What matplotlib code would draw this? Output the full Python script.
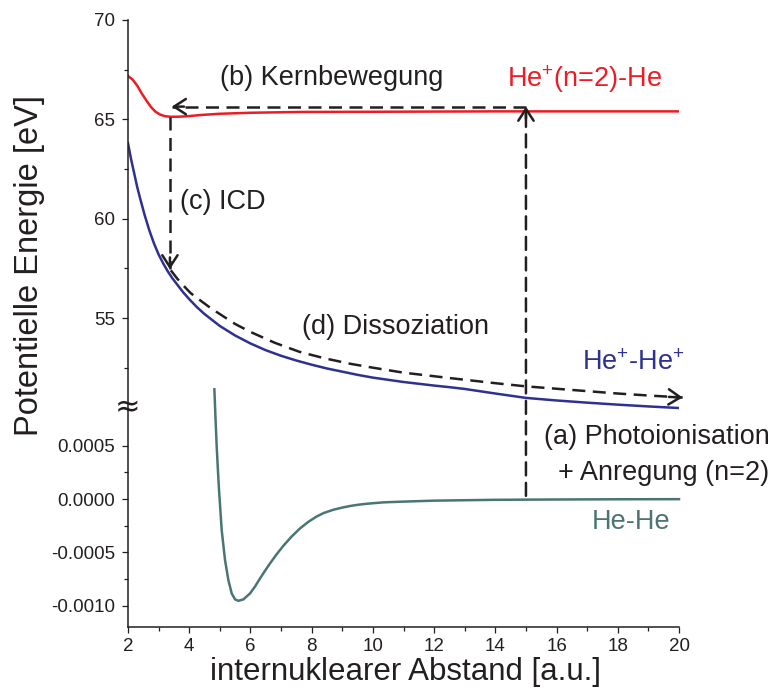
import numpy as np
import matplotlib
matplotlib.use("Agg")
from matplotlib import pyplot as plt
from matplotlib.patches import ConnectionPatch

plt.rcParams['font.family'] = ['Liberation Sans', 'DejaVu Sans']
plt.rcParams['mathtext.fontset'] = 'custom'
plt.rcParams['mathtext.rm'] = 'Liberation Sans'
plt.rcParams['mathtext.it'] = 'Liberation Sans'

# Daten
x_red = [2.0, 2.15, 2.3, 2.45, 2.6, 2.75, 2.9, 3.05, 3.2, 3.37, 3.6, 3.9, 4.4, 5.0, 6.0, 7.6, 10.0, 14.0, 20.0]
y_red = [67.18, 67.0, 66.7, 66.3, 65.95, 65.62, 65.38, 65.24, 65.16, 65.13, 65.13, 65.15, 65.22, 65.28, 65.33, 65.37, 65.38, 65.4, 65.4]

x_blue = [2.0, 2.1, 2.2, 2.3, 2.4, 2.55, 2.7, 2.85, 3.0, 3.15, 3.3, 3.45, 3.6, 3.8, 4.0, 4.25, 4.5, 4.75, 5.0,
          5.5, 6.0, 6.5, 7.0, 7.5, 8.0, 8.5, 9.0, 9.5, 10.0, 11.0, 12.0, 12.5, 13.0, 14.0, 15.0, 16.0, 17.0,
          18.0, 19.0, 20.0]
y_blue = [63.8, 63.0, 62.3, 61.6, 61.0, 60.15, 59.4, 58.75, 58.2, 57.75, 57.35, 57.0, 56.7, 56.3, 55.95, 55.55,
          55.2, 54.9, 54.6, 54.12, 53.72, 53.38, 53.1, 52.86, 52.65, 52.46, 52.3, 52.14, 52.0, 51.78, 51.6,
          51.52, 51.43, 51.2, 50.98, 50.85, 50.74, 50.64, 50.55, 50.47]

x_hehe = [4.822, 4.86, 4.898, 4.935, 4.974, 5.061, 5.17, 5.279, 5.388, 5.497, 5.606, 5.769, 5.987, 6.15, 6.314,
          6.47, 6.641, 6.85, 7.076, 7.35, 7.621, 7.9, 8.166, 8.4, 8.71, 9.0, 9.255, 9.5, 9.8, 10.34, 10.89,
          12.0, 14.0, 16.0, 18.0, 20.0]
y_hehe = [1.029e-3, 7.5e-4, 4.91e-4, 2.85e-4, 8.4e-5, -2.91e-4, -5.72e-4, -7.6e-4, -8.85e-4, -9.41e-4, -9.54e-4,
          -9.41e-4, -8.85e-4, -8.2e-4, -7.44e-4, -6.75e-4, -6.03e-4, -5.2e-4, -4.38e-4, -3.5e-4, -2.75e-4,
          -2.12e-4, -1.63e-4, -1.3e-4, -1.0e-4, -8.0e-5, -6.5e-5, -5.4e-5, -4.4e-5, -3.1e-5, -2.5e-5,
          -1.5e-5, -7e-6, -4e-6, -2e-6, -1e-6]

# gestrichelte Pfade
x_diss = [3.4, 3.6, 3.8, 4.05, 4.35, 4.7, 5.0, 5.5, 6.0, 6.8, 7.6, 8.4, 9.25, 10.0, 11.0, 12.5, 14.0, 15.0,
          16.5, 18.0, 19.0, 20.12]
y_diss = [57.4, 57.0, 56.65, 56.25, 55.9, 55.5, 55.2, 54.7, 54.3, 53.75, 53.3, 52.98, 52.7, 52.5, 52.25, 51.98,
          51.72, 51.56, 51.38, 51.2, 51.1, 51.0]
x_kern = [15.0, 3.43]
y_kern = [65.64, 65.64]
x_icd = [3.37, 3.37]
y_icd = [65.1, 57.45]
x_photo = 15.0
y_photo_start = 0.00003
y_photo_end = 65.64

xticks = [2, 4, 6, 8, 10, 12, 14, 16, 18, 20]
yticks_top = [55, 60, 65, 70]
yticks_bot = [-0.0010, -0.0005, 0.0000, 0.0005]
yticklabels_bot = ['-0.0010', '-0.0005', '0.0000', '0.0005']

RED = '#ED1C24'
BLUE = '#2E3192'
TEAL = '#4A7573'
INK = '#231F20'
LW = 1.8
DASH = (0, (5.2, 3.0))

fig = plt.figure(figsize=(7.71, 6.96), dpi=100)
ax_top = fig.add_axes([0.166, 0.4109, 0.7147, 0.5604])
ax_bot = fig.add_axes([0.166, 0.0991, 0.7147, 0.3118], sharex=ax_top)

ax_top.set_xlim(2, 20)
ax_top.set_ylim(50.37, 70)
ax_bot.set_ylim(-0.0012, 0.000835)

for ax in (ax_top, ax_bot):
    ax.spines['top'].set_visible(False)
    ax.spines['right'].set_visible(False)
    ax.spines['left'].set_linewidth(1.1)
    ax.spines['left'].set_color(INK)
    ax.tick_params(direction='out', length=4.5, width=0.9, labelsize=13.5, colors=INK, pad=4.5)
    ax.tick_params(which='minor', direction='out', length=2.6, width=0.9, colors=INK)
    ax.patch.set_visible(False)

ax_top.spines['bottom'].set_visible(False)
ax_top.tick_params(axis='x', which='both', bottom=False, labelbottom=False)
ax_bot.spines['bottom'].set_linewidth(1.1)
ax_bot.spines['bottom'].set_color(INK)
ax_bot.tick_params(axis='x', pad=3.5)

ax_top.set_yticks(yticks_top)
ax_top.set_yticks([52.5, 57.5, 62.5, 67.5], minor=True)
ax_bot.set_yticks(yticks_bot)
ax_bot.set_yticklabels(yticklabels_bot)
ax_bot.set_yticks([-0.00075, -0.00025, 0.00025], minor=True)
ax_bot.set_xticks(xticks)
ax_bot.set_xticks([3, 5, 7, 9, 11, 13, 15, 17, 19], minor=True)

# Kurven
ax_top.plot(x_red, y_red, color=RED, lw=LW)
ax_top.plot(x_blue, y_blue, color=BLUE, lw=LW)
ax_bot.plot(x_hehe, y_hehe, color=TEAL, lw=LW, clip_on=False)

# gestrichelte Pfeile
ax_top.plot(x_diss, y_diss, color=INK, lw=LW, linestyle=DASH, clip_on=False)
ax_top.plot(x_kern, y_kern, color=INK, lw=LW, linestyle=DASH)
ax_top.plot(x_icd, y_icd, color=INK, lw=LW, linestyle=DASH)
con = ConnectionPatch(xyA=(x_photo, y_photo_start), coordsA=ax_bot.transData,
                      xyB=(x_photo, y_photo_end), coordsB=ax_top.transData,
                      color=INK, lw=LW, linestyle=DASH)
fig.add_artist(con)


def head(ax, tip, back):
    ax.annotate('', xy=tip, xytext=back, annotation_clip=False,
                arrowprops=dict(arrowstyle='->,head_length=0.85,head_width=0.55',
                                lw=LW, color=INK, mutation_scale=10,
                                shrinkA=0, shrinkB=0))


head(ax_top, (x_kern[1], y_kern[1]), (x_kern[1] + 0.4, y_kern[1]))
head(ax_top, (x_icd[1], y_icd[1]), (x_icd[1], y_icd[1] + 0.6))
head(ax_top, (x_diss[-1], y_diss[-1]), (x_diss[-1] - 0.45, y_diss[-1] + 0.03))
head(ax_top, (x_photo, y_photo_end), (x_photo, y_photo_end - 0.6))

# Beschriftungen
fs = 19.5
ax_top.text(5.0, 67.08, '(b) Kernbewegung', fontsize=fs, color=INK, va='center')
ax_top.text(14.39, 67.0, 'He$^{+}$(n=2)-He', fontsize=fs, color=RED, va='center')
ax_top.text(3.7, 60.86, '(c) ICD', fontsize=fs, color=INK, va='center')
ax_top.text(7.68, 54.57, '(d) Dissoziation', fontsize=fs, color=INK, va='center')
ax_top.text(16.83, 52.74, 'He$^{+}$-He$^{+}$', fontsize=fs, color=BLUE, va='center')
ax_bot.text(22.95, 0.000584, '(a) Photoionisation', fontsize=fs, color=INK, va='center', ha='right')
ax_bot.text(22.95, 0.000241, '+ Anregung (n=2)', fontsize=fs, color=INK, va='center', ha='right')
ax_bot.text(17.15, -0.000213, 'He-He', fontsize=fs, color=TEAL, va='center')

fig.text(128 / 771, 1 - 408 / 696, '\u2248', fontsize=22, color=INK,
         ha='center', va='center', family='DejaVu Sans')

fig.text(30 / 771, 1 - 265 / 696, 'Potentielle Energie [eV]', rotation=90, fontsize=23.5,
         color=INK, ha='center', va='center')
fig.text(405 / 771, 1 - 672 / 696, 'internuklearer Abstand [a.u.]', fontsize=22.5,
         color=INK, ha='center', va='center')

fig.savefig('out.png', dpi=100)
